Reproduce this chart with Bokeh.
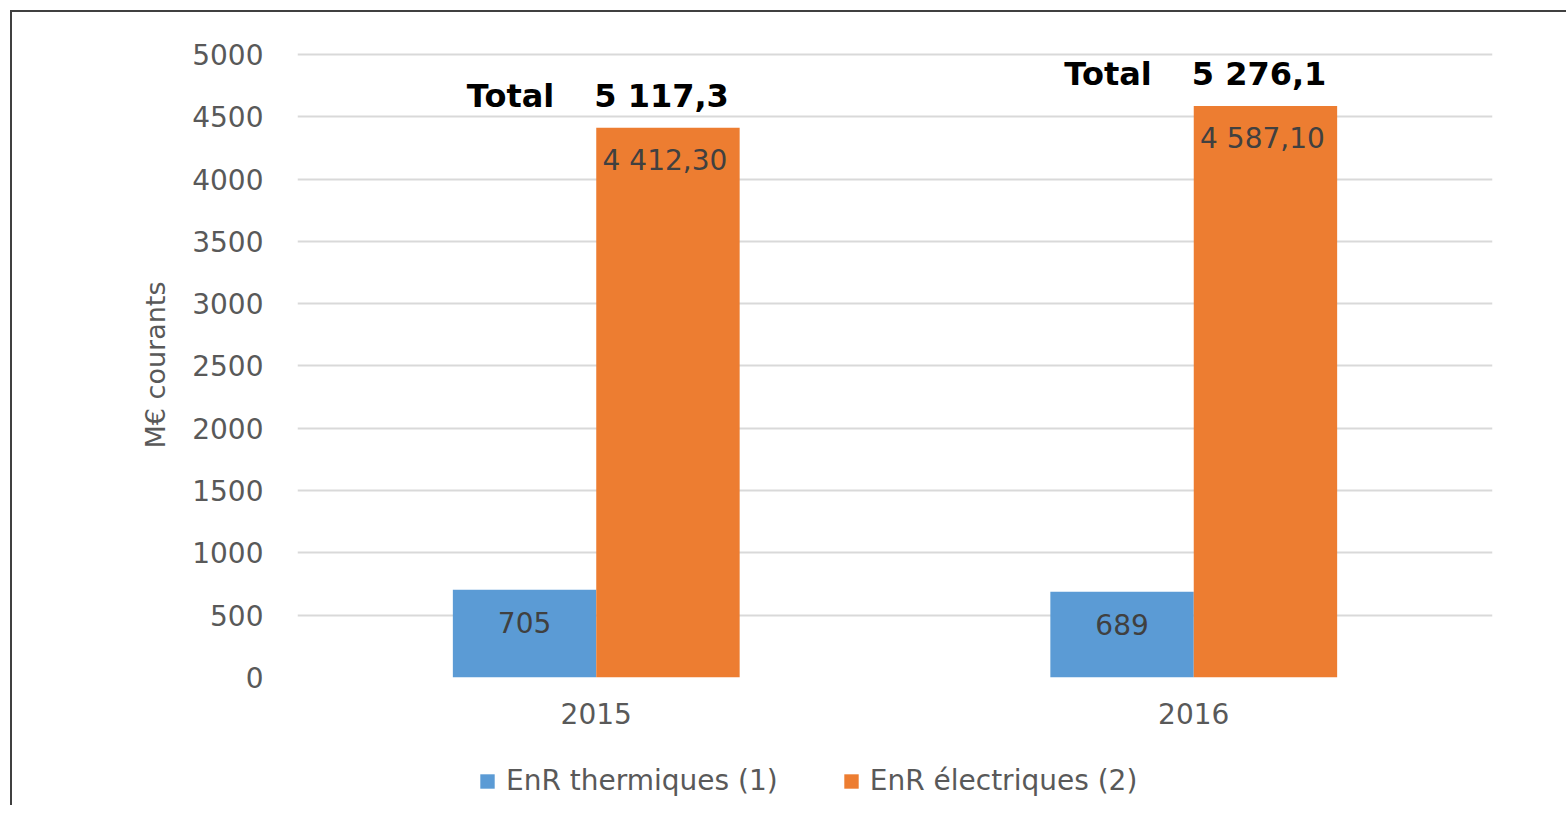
from bokeh.plotting import figure
from bokeh.layouts import column
from bokeh.models import ColumnDataSource, FactorRange, Range1d, Legend, LegendItem
from bokeh.transform import dodge
from bokeh.core.properties import value
from bokeh.embed import file_html
from bokeh.resources import INLINE

# Data (M€ courants)
years = ["2015", "2016"]
thermiques = [705, 689]
electriques = [4412.3, 4587.1]
thermiques_labels = ["705", "689"]
electriques_labels = ["4 412,30", "4 587,10"]
series_names = ["EnR thermiques (1)", "EnR électriques (2)"]
y_ticks = [0, 500, 1000, 1500, 2000, 2500, 3000, 3500, 4000, 4500, 5000]


def fr_number(v, decimals=1):
    s = f"{v:,.{decimals}f}"
    return s.replace(",", " ").replace(".", ",")


totals = [t + e for t, e in zip(thermiques, electriques)]
totals_labels = [fr_number(v) for v in totals]

FONT = "DejaVu Sans"
GRAY = "#595959"
BLUE = "#5B9BD5"
ORANGE = "#ED7D31"
FRAME_LINE = "2px solid #404040"

src = ColumnDataSource(dict(
    year=years,
    therm=thermiques,
    elec=electriques,
    therm_lab=thermiques_labels,
    elec_lab=electriques_labels,
    total_lab=totals_labels,
    total_word=["Total"] * len(years),
))

# ---- main chart -------------------------------------------------------------
p = figure(
    x_range=FactorRange(*years, range_padding=0),
    y_range=Range1d(0, 5016),
    frame_width=1193, frame_height=623,
    output_backend="svg", toolbar_location=None,
    min_border_left=285, min_border_top=40, min_border_right=76, min_border_bottom=72,
    margin=(10, 0, 0, 10),
    styles={"border-top": FRAME_LINE, "border-left": FRAME_LINE},
)
p.outline_line_color = None
p.background_fill_color = "white"
p.border_fill_color = "white"

p.xgrid.grid_line_color = None
p.ygrid.grid_line_color = "#d9d9d9"
p.ygrid.grid_line_width = 2
p.yaxis.ticker = y_ticks

for ax in (p.xaxis, p.yaxis):
    ax.axis_line_color = None
    ax.major_tick_line_color = None
    ax.minor_tick_line_color = None
    ax.major_tick_out = 0
    ax.major_tick_in = 0
    ax.minor_tick_out = 0
    ax.major_label_text_color = GRAY
    ax.major_label_text_font = FONT
    ax.major_label_text_font_size = "28px"

p.yaxis.major_label_standoff = 34
p.xaxis.major_label_standoff = 25
p.xaxis.axis_label_standoff = 0
p.yaxis.axis_label = "M€ courants"
p.yaxis.axis_label_text_font = FONT
p.yaxis.axis_label_text_font_size = "27px"
p.yaxis.axis_label_text_font_style = "normal"
p.yaxis.axis_label_text_color = GRAY
p.yaxis.axis_label_standoff = 18

p.vbar(x=dodge("year", -0.12, range=p.x_range), top="therm", width=0.24,
       source=src, fill_color=BLUE, line_color=None)
p.vbar(x=dodge("year", 0.12, range=p.x_range), top="elec", width=0.24,
       source=src, fill_color=ORANGE, line_color=None)

# value labels inside the bars
p.text(x=dodge("year", -0.12, range=p.x_range), y="therm", text="therm_lab", source=src,
       y_offset=33, text_align="center", text_baseline="middle",
       text_font=value(FONT), text_font_size="28px", text_color="#404040")
p.text(x=dodge("year", 0.115, range=p.x_range), y="elec", text="elec_lab", source=src,
       y_offset=33, text_align="center", text_baseline="middle",
       text_font=value(FONT), text_font_size="28px", text_color="#404040")

# totals above each group
p.text(x="year", y="elec", text="total_word", source=src,
       x_offset=-42, y_offset=-32, text_align="right", text_baseline="middle",
       text_font=value(FONT), text_font_size="32px", text_font_style="bold",
       text_color="#000000")
p.text(x="year", y="elec", text="total_lab", source=src,
       x_offset=-2, y_offset=-32, text_align="left", text_baseline="middle",
       text_font=value(FONT), text_font_size="32px", text_font_style="bold",
       text_color="#000000")

# ---- legend strip -----------------------------------------------------------
# Hidden copies of the two series feed the legend entries of this strip.
lg = figure(
    x_range=FactorRange(*years, range_padding=0),
    y_range=Range1d(0, 5016),
    frame_width=1554, frame_height=58,
    output_backend="svg", toolbar_location=None,
    x_axis_location=None, y_axis_location=None,
    min_border=0, margin=(0, 0, 0, 10),
    styles={"border-left": FRAME_LINE},
)
lg.outline_line_color = None
lg.background_fill_color = "white"
lg.border_fill_color = "white"
lg.grid.visible = False
l1 = lg.vbar(x=dodge("year", -0.12, range=lg.x_range), top="therm", width=0.24,
             source=src, fill_color=BLUE, line_color=None, visible=False)
l2 = lg.vbar(x=dodge("year", 0.12, range=lg.x_range), top="elec", width=0.24,
             source=src, fill_color=ORANGE, line_color=None, visible=False)

legend = Legend(
    items=[LegendItem(label=series_names[0], renderers=[l1]),
           LegendItem(label=series_names[1], renderers=[l2])],
    orientation="horizontal", location=(466, 8),
    label_text_font=FONT, label_text_font_size="28px", label_text_color=GRAY,
    glyph_width=18, glyph_height=18, spacing=64, label_standoff=10,
    border_line_color=None, background_fill_alpha=0, margin=0, padding=0,
    inactive_fill_alpha=0,
)
lg.add_layout(legend, "center")

page = column(p, lg, spacing=0)
open("out.html", "w").write(file_html(page, INLINE))
